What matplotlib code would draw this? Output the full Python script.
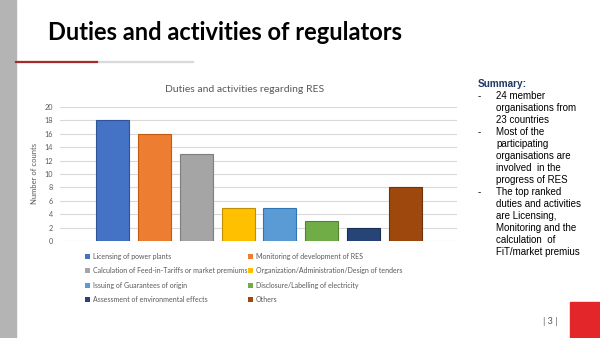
import matplotlib
matplotlib.use('Agg')
import matplotlib.pyplot as plt
from matplotlib.patches import Rectangle
from matplotlib.lines import Line2D

# survey results: how many regulators carry out each duty
duties = ['Licensing of power plants',
          'Monitoring of development of RES',
          'Calculation of Feed-in-Tariffs or market premiums',
          'Organization/Administration/Design of tenders',
          'Issuing of Guarantees of origin',
          'Disclosure/Labelling of electricity',
          'Assessment of environmental effects',
          'Others']
counts = [18, 16, 13, 5, 5, 3, 2, 8]
yticks = list(range(0, 21, 2))

colors = ['#4472C4', '#ED7D31', '#A5A5A5', '#FFC000',
          '#5B9BD5', '#70AD47', '#264478', '#9E480E']
edges = ['#2F5597', '#C55A11', '#7F7F7F', '#BF9000',
         '#2E75B6', '#548235', '#1A2F54', '#70330A']

summary = [
    ('-', '24 member'),
    ('', 'organisations from'),
    ('', '23 countries'),
    ('-', 'Most of the'),
    ('', 'participating'),
    ('', 'organisations are'),
    ('', 'involved  in the'),
    ('', 'progress of RES'),
    ('-', 'The top ranked'),
    ('', 'duties and activities'),
    ('', 'are Licensing,'),
    ('', 'Monitoring and the'),
    ('', 'calculation  of'),
    ('', 'FiT/market premius'),
]

W, H = 600, 338
fig = plt.figure(figsize=(W / 100, H / 100), dpi=100)


def fx(px):
    return px / W


def fy(py):
    return 1 - py / H


# slide decoration
fig.patches.append(Rectangle((0, 0), fx(16), 1, transform=fig.transFigure,
                             color='#B4B4B4', zorder=0))
fig.lines.append(Line2D([fx(16), fx(193)], [fy(62), fy(62)], transform=fig.transFigure,
                        color='#D9D9D9', lw=1.6))
fig.lines.append(Line2D([fx(16), fx(97)], [fy(62), fy(62)], transform=fig.transFigure,
                        color='#A52A2A', lw=1.6))
fig.patches.append(Rectangle((fx(570), 0), fx(30), fy(302), transform=fig.transFigure,
                             color='#E3262A', zorder=0))
fig.text(fx(48), fy(33), 'Duties and activities of regulators', fontsize=17,
         fontweight='bold', family='Lato', color='black', va='center', ha='left')
fig.text(fx(550), fy(321), '| 3 |', fontsize=6.5, family='Lato', color='#595959',
         ha='center', va='center')

# bar chart
ax = fig.add_axes([fx(60), fy(241), fx(457 - 60), (241 - 107) / H])
x = list(range(len(counts)))
bars = ax.bar(x, counts, width=0.79, color=colors, edgecolor=edges,
              linewidth=0.8, zorder=3)
ax.set_xlim(-1.254, 8.23)
ax.set_ylim(0, 20)
ax.set_yticks(yticks)
ax.set_xticks([])
ax.grid(axis='y', color='#D9D9D9', lw=0.8, zorder=0)
for s in ax.spines.values():
    s.set_visible(False)
ax.tick_params(axis='y', length=0, pad=5, labelsize=5.2, labelcolor='#595959')
for lab in ax.get_yticklabels():
    lab.set_family('Lato')
ax.set_ylabel('Number of counts', fontsize=5.5, family='Lato', color='#595959')
ax.yaxis.set_label_coords(-0.055, 0.5)

fig.text(fx(245), fy(89), 'Duties and activities regarding RES', fontsize=7.5,
         family='Lato', color='#595959', ha='center', va='center')

# legend laid out row-wise in two columns
handles = list(bars.patches)
for i, col_x in enumerate([85, 248]):
    leg = fig.legend(handles[i::2], duties[i::2], loc='upper left',
                     bbox_to_anchor=(fx(col_x), fy(253)), frameon=False,
                     prop={'family': 'Lato', 'size': 5.0}, labelcolor='#595959',
                     handlelength=0.75, handleheight=0.75, handletextpad=0.35,
                     labelspacing=1.05, borderpad=0, borderaxespad=0)
    for h in leg.legend_handles:
        h.set_linewidth(0)

# summary text block
fig.text(fx(478), fy(84), 'Summary:', fontsize=7.2, fontweight='bold',
         family='Liberation Sans', color='#1F3864', va='center')
for i, (dash, line) in enumerate(summary):
    y = fy(84 + 12 * (i + 1))
    if dash:
        fig.text(fx(478), y, dash, fontsize=7, family='Liberation Sans', va='center')
    fig.text(fx(496), y, line, fontsize=7, family='Liberation Sans', va='center')

fig.savefig('out.png', dpi=100)
